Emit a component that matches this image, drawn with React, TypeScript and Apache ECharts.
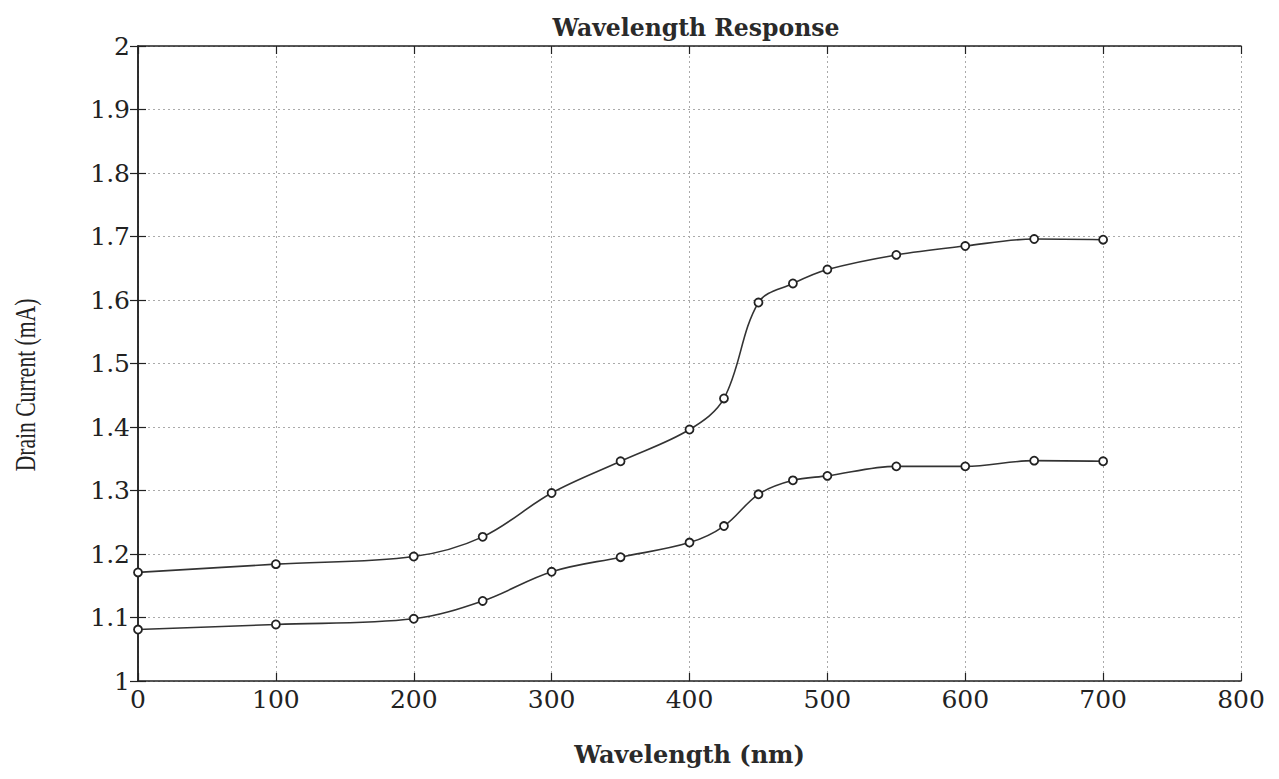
import React, { useEffect, useRef } from "react";
import * as echarts from "echarts";

const wavelengths = [0, 100, 200, 250, 300, 350, 400, 425, 450, 475, 500, 550, 600, 650, 700];
const upperCurrent = [1.171, 1.184, 1.196, 1.227, 1.296, 1.346, 1.396, 1.445, 1.596, 1.626, 1.648, 1.671, 1.685, 1.696, 1.695];
const lowerCurrent = [1.081, 1.089, 1.098, 1.126, 1.172, 1.195, 1.218, 1.244, 1.294, 1.316, 1.323, 1.338, 1.338, 1.347, 1.346];

const WIDE = "DejaVu Serif";
const TIMES = "Liberation Serif";

export default function App() {
  const ref = useRef<HTMLDivElement>(null);
  useEffect(() => {
    if (!ref.current) return;
    const chart = echarts.init(ref.current, null, { renderer: "svg" });
    const mk = (ys: number[]) => wavelengths.map((x, i) => [x, ys[i]]);
    const lineSeries = (name: string, ys: number[]) => ({
      name,
      type: "line",
      data: mk(ys),
      smooth: 0.35,
      symbol: "circle",
      symbolSize: 8,
      showAllSymbol: true,
      lineStyle: { color: "#333", width: 1.6 },
      itemStyle: { color: "#fff", borderColor: "#222", borderWidth: 1.8 },
    });
    const tick = { inside: true, length: 8, lineStyle: { color: "#222", width: 1.2 } };
    const grid = { show: true, lineStyle: { color: "#aaa", type: [2, 3], width: 1 } };
    chart.setOption({
      animation: false,
      backgroundColor: "#fff",
      title: {
        text: "Wavelength Response",
        left: 683,
        top: 3,
        textAlign: "center",
        textStyle: { fontFamily: WIDE, fontSize: 23.5, fontWeight: "bold", color: "#2a2a2a" },
      },
      graphic: [
        {
          type: "text",
          x: 17,
          y: 377,
          rotation: Math.PI / 2,
          scaleX: 0.72,
          scaleY: 1,
          style: {
            text: "Drain Current (mA)",
            fontFamily: TIMES,
            fontSize: 30,
            fill: "#222",
            align: "center",
            verticalAlign: "middle",
          },
        },
      ],
      grid: { left: 130, right: 30, top: 38, bottom: 86 },
      xAxis: [
        {
          type: "value",
          min: 0,
          max: 800,
          interval: 100,
          name: "Wavelength (nm)",
          nameLocation: "middle",
          nameGap: 61,
          nameTextStyle: { fontFamily: WIDE, fontSize: 24, fontWeight: "bold", color: "#2a2a2a" },
          axisLine: { lineStyle: { color: "#222", width: 1.5 } },
          axisTick: tick,
          axisLabel: { fontFamily: WIDE, fontSize: 25, color: "#222", margin: 6 },
          splitLine: grid,
        },
        {
          type: "value",
          position: "top",
          min: 0,
          max: 800,
          interval: 100,
          axisLine: { show: true, lineStyle: { color: "#222", width: 1.5 } },
          axisTick: tick,
          axisLabel: { show: false },
          splitLine: { show: false },
        },
      ],
      yAxis: [
        {
          type: "value",
          min: 1,
          max: 2,
          interval: 0.1,
          axisLine: { show: true, lineStyle: { color: "#222", width: 1.5 } },
          axisTick: tick,
          axisLabel: { fontFamily: WIDE, fontSize: 25, color: "#222", margin: 8 },
          splitLine: grid,
        },
        {
          type: "value",
          position: "right",
          min: 1,
          max: 2,
          interval: 0.1,
          axisLine: { show: true, lineStyle: { color: "#222", width: 1.5 } },
          axisTick: tick,
          axisLabel: { show: false },
          splitLine: { show: false },
        },
      ],
      series: [lineSeries("Upper", upperCurrent), lineSeries("Lower", lowerCurrent)],
    });
    return () => chart.dispose();
  }, []);
  return <div ref={ref} style={{ width: 1263, height: 763 }} />;
}
